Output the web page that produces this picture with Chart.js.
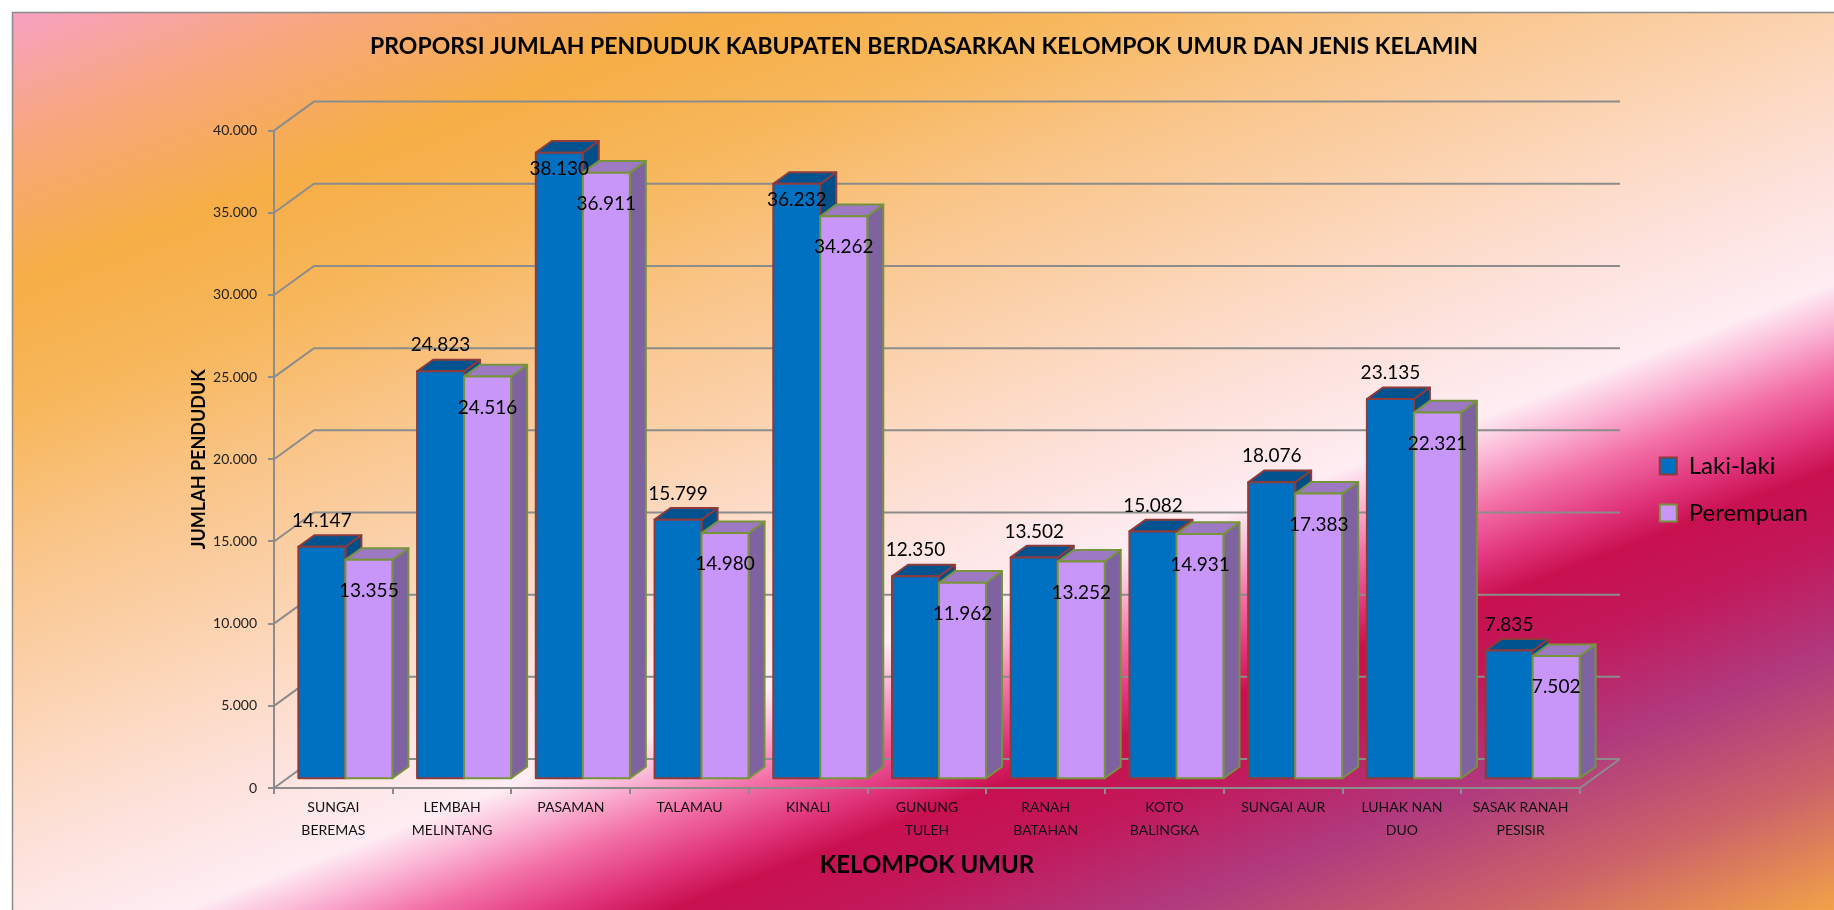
<!DOCTYPE html>
<html>
<head>
<meta charset="utf-8">
<script src="https://cdn.jsdelivr.net/npm/chart.js@4.4.1/dist/chart.umd.min.js"></script>
<style>
  html, body { margin: 0; padding: 0; background: #fff; overflow: hidden; }
  #wrap { width: 1834px; height: 910px; }
</style>
</head>
<body>
<div id="wrap"><canvas id="chart" width="1834" height="910"></canvas></div>
<script>
const categories = [
  ['SUNGAI', 'BEREMAS'], ['LEMBAH', 'MELINTANG'], ['PASAMAN'], ['TALAMAU'], ['KINALI'],
  ['GUNUNG', 'TULEH'], ['RANAH', 'BATAHAN'], ['KOTO', 'BALINGKA'], ['SUNGAI AUR'],
  ['LUHAK NAN', 'DUO'], ['SASAK RANAH', 'PESISIR']
];
const lakiLaki = [14147, 24823, 38130, 15799, 36232, 12350, 13502, 15082, 18076, 23135, 7835];
const perempuan = [13355, 24516, 36911, 14980, 34262, 11962, 13252, 14931, 17383, 22321, 7502];
const seriesNames = ['Laki-laki', 'Perempuan'];
const yMin = 0, yMax = 40000, yStep = 5000;

const titleText = 'PROPORSI JUMLAH PENDUDUK KABUPATEN BERDASARKAN KELOMPOK UMUR DAN JENIS KELAMIN';
const xTitle = 'KELOMPOK UMUR';
const yTitle = 'JUMLAH PENDUDUK';

// dotted thousands like the original (14.147)
const fmt = v => String(v).replace(/\B(?=(\d{3})+(?!\d))/g, '.');

// 3D look: back wall offset, bars sit a bit into the depth
const DEPTH = { x: 40, y: -29 };
const BAR_SHIFT = 0.3;
const BAR_DEPTH = 0.4;
const GRID = '#8c8c8c';

const background3d = {
  id: 'background3d',
  beforeDraw(chart) {
    const { ctx, width, height } = chart;
    ctx.save();
    ctx.fillStyle = '#fff';
    ctx.fillRect(0, 0, width, height);
    const g = ctx.createLinearGradient(0, 0, 533, 1404);
    [
      [0.00, '#f8a0cc'], [0.09, '#f7a77e'], [0.178, '#f6ae46'], [0.264, '#f7b75c'],
      [0.35, '#f9c589'], [0.46, '#fcd6b8'], [0.54, '#fde2dc'], [0.61, '#feedf3'],
      [0.635, '#fbb8d6'], [0.665, '#f372a8'], [0.70, '#e0337a'], [0.725, '#c8104f'],
      [0.77, '#c2185a'], [0.84, '#b03a7e'], [0.92, '#cc6468'], [1.00, '#f2a248']
    ].forEach(([o, c]) => g.addColorStop(o, c));
    ctx.fillStyle = g;
    ctx.fillRect(12, 12, width - 12, height - 12);
    ctx.strokeStyle = GRID;
    ctx.lineWidth = 1.5;
    ctx.strokeRect(12.5, 12.5, width, height);
    ctx.restore();
  },
  beforeDatasetsDraw(chart) {
    const { ctx, chartArea: a } = chart;
    const y = chart.scales.y;
    ctx.save();

    // walls: diagonal from the front axis, then the back line
    ctx.strokeStyle = GRID;
    ctx.lineWidth = 2;
    y.ticks.forEach(t => {
      const py = y.getPixelForValue(t.value);
      ctx.beginPath();
      ctx.moveTo(a.left, py);
      ctx.lineTo(a.left + DEPTH.x, py + DEPTH.y);
      ctx.lineTo(a.right + DEPTH.x, py + DEPTH.y);
      ctx.stroke();
    });
    const y0 = y.getPixelForValue(0);
    ctx.beginPath();
    ctx.moveTo(a.right, y0);
    ctx.lineTo(a.right + DEPTH.x, y0 + DEPTH.y);
    ctx.stroke();

    const sx = DEPTH.x * BAR_SHIFT, sy = DEPTH.y * BAR_SHIFT;
    const dx = DEPTH.x * BAR_DEPTH, dy = DEPTH.y * BAR_DEPTH;
    const metas = chart.data.datasets.map((d, i) => chart.getDatasetMeta(i));

    for (let i = 0; i < chart.data.labels.length; i++) {
      metas.forEach((meta, di) => {
        const ds = chart.data.datasets[di];
        const el = meta.data[i];
        const x0 = el.x - el.width / 2 + sx, x1 = el.x + el.width / 2 + sx;
        const top = el.y + sy, base = el.base + sy;
        ctx.lineWidth = 2;
        ctx.lineJoin = 'round';
        ctx.strokeStyle = ds.borderColor;
        // side
        ctx.beginPath();
        ctx.moveTo(x1, top); ctx.lineTo(x1 + dx, top + dy);
        ctx.lineTo(x1 + dx, base + dy); ctx.lineTo(x1, base); ctx.closePath();
        ctx.fillStyle = ds.sideColor; ctx.fill(); ctx.stroke();
        // top
        ctx.beginPath();
        ctx.moveTo(x0, top); ctx.lineTo(x0 + dx, top + dy);
        ctx.lineTo(x1 + dx, top + dy); ctx.lineTo(x1, top); ctx.closePath();
        ctx.fillStyle = ds.topColor; ctx.fill(); ctx.stroke();
        // front
        ctx.fillStyle = ds.backgroundColor;
        ctx.fillRect(x0, top, x1 - x0, base - top);
        ctx.strokeRect(x0, top, x1 - x0, base - top);
      });
    }

    // value labels
    ctx.font = '19px Lato';
    ctx.fillStyle = '#000';
    ctx.textAlign = 'center';
    ctx.textBaseline = 'middle';
    metas.forEach((meta, di) => {
      const ds = chart.data.datasets[di];
      meta.data.forEach((el, i) => {
        const top = el.y + sy;
        let ly;
        if (di === 0) {
          ly = top - 26;
          if (ly < a.top + 30) ly = top + 16;
        } else {
          ly = top + 31;
        }
        ctx.fillText(fmt(ds.data[i]), el.x + sx, ly);
      });
    });

    ctx.restore();
    return false;
  }
};

Chart.defaults.font.family = 'Lato';

new Chart(document.getElementById('chart'), {
  type: 'bar',
  data: {
    labels: categories,
    datasets: [
      {
        label: seriesNames[0],
        data: lakiLaki,
        backgroundColor: '#0070c0',
        topColor: '#00538f',
        sideColor: '#004f88',
        borderColor: '#8e3b3b',
        borderWidth: 2,
        categoryPercentage: 0.792,
        barPercentage: 1
      },
      {
        label: seriesNames[1],
        data: perempuan,
        backgroundColor: '#c896f8',
        topColor: '#9c79c2',
        sideColor: '#7f62a0',
        borderColor: '#77933c',
        borderWidth: 2,
        categoryPercentage: 0.792,
        barPercentage: 1
      }
    ]
  },
  options: {
    responsive: false,
    animation: false,
    layout: { padding: { top: 12, left: 30, right: 16, bottom: 0 } },
    plugins: {
      title: {
        display: true,
        text: titleText,
        color: '#000',
        font: { family: 'Lato', weight: 'bold', size: 23 },
        padding: { top: 21, bottom: 70 }
      },
      legend: {
        position: 'right',
        align: 'center',
        title: { display: true, text: ' ', font: { size: 16 }, padding: 19 },
        labels: {
          color: '#000',
          font: { family: 'Lato', size: 24 },
          boxWidth: 17,
          boxHeight: 17,
          padding: 23
        }
      },
      tooltip: { enabled: false }
    },
    scales: {
      x: {
        type: 'category',
        offset: true,
        grid: { drawOnChartArea: false, drawTicks: true, tickLength: 6, color: GRID, lineWidth: 2, offset: true },
        border: { color: GRID, width: 2 },
        ticks: {
          color: '#111',
          font: { family: 'Lato', size: 14, lineHeight: 1.64 },
          padding: 2,
          maxRotation: 0,
          autoSkip: false
        },
        title: {
          display: true,
          text: xTitle,
          color: '#000',
          font: { family: 'Lato', weight: 'bold', size: 24 },
          padding: { top: 0, bottom: 30 }
        },
        afterFit(s) { s.height = 122; }
      },
      y: {
        min: yMin,
        max: yMax,
        grid: { drawOnChartArea: false, drawTicks: true, tickLength: 6, color: GRID, lineWidth: 2 },
        border: { color: GRID, width: 2 },
        ticks: {
          stepSize: yStep,
          color: '#222',
          font: { family: 'Lato', size: 14 },
          padding: 11,
          callback: v => fmt(v)
        },
        title: {
          display: true,
          text: yTitle,
          color: '#000',
          font: { family: 'Lato', weight: 'bold', size: 18 },
          padding: { top: 158, bottom: 0 }
        },
        afterFit(s) { s.width = 244; }
      },
      // spacer between the plot and the legend
      yR: {
        type: 'linear',
        position: 'right',
        display: true,
        grid: { display: false },
        border: { display: false },
        ticks: { display: false },
        afterFit(s) {
          const lw = s.chart.legend && s.chart.legend.width ? s.chart.legend.width : 180;
          s.width = Math.max(0, s.chart.width - 16 - lw - 1580);
        }
      }
    }
  },
  plugins: [background3d]
});
</script>
</body>
</html>
